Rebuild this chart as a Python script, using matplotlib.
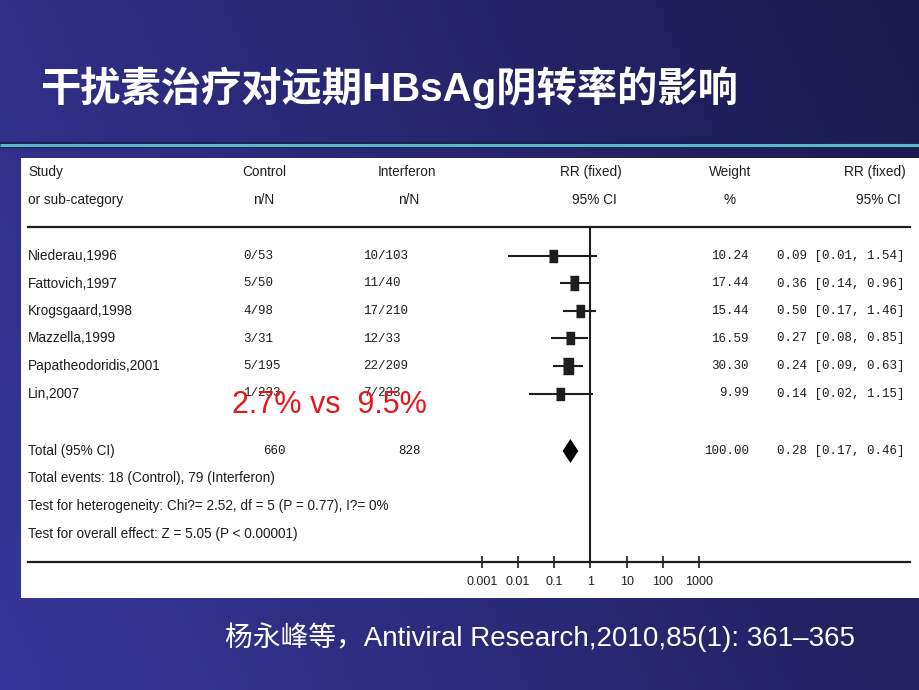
import numpy as np
import matplotlib
matplotlib.use("Agg")
import matplotlib.pyplot as plt
from matplotlib.patches import Rectangle

# study data
studies = ['Niederau,1996', 'Fattovich,1997', 'Krogsgaard,1998', 'Mazzella,1999',
           'Papatheodoridis,2001', 'Lin,2007']
ctrl_n = [0, 5, 4, 3, 5, 1]
ctrl_N = [53, 50, 98, 31, 195, 233]
ifn_n = [10, 11, 17, 12, 22, 7]
ifn_N = [103, 40, 210, 33, 209, 233]
weight = [10.24, 17.44, 15.44, 16.59, 30.30, 9.99]
rr = [0.09, 0.36, 0.50, 0.27, 0.24, 0.14]
ci_lo = [0.0053, 0.14, 0.17, 0.08, 0.09, 0.02]
ci_hi = [1.54, 0.96, 1.46, 0.85, 0.63, 1.15]
total_rr, total_lo, total_hi = 0.28, 0.17, 0.46
tick_vals = [0.001, 0.01, 0.1, 1, 10, 100, 1000]
tick_labels = ['0.001', '0.01', '0.1', '1', '10', '100', '1000']

title = '干扰素治疗对远期HBsAg阴转率的影响'
citation = '杨永峰等，Antiviral Research,2010,85(1): 361–365'
note = '2.7% vs  9.5%'
footer = ['Total events: 18 (Control), 79 (Interferon)',
          'Test for heterogeneity: Chi?= 2.52, df = 5 (P = 0.77), I?= 0%',
          'Test for overall effect: Z = 5.05 (P < 0.00001)']

W, H = 920, 690
sans = ['Liberation Sans', 'DejaVu Sans']
mono = ['Liberation Mono', 'DejaVu Sans Mono']
cjk = ['Liberation Sans', 'Noto Sans CJK SC']
ink = '#1e1e1e'

fig = plt.figure(figsize=(W / 100, H / 100), dpi=100)

# background slide (pixel coordinates)
ax = fig.add_axes([0, 0, 1, 1])
ax.set_xlim(0, W)
ax.set_ylim(H, 0)
ax.axis('off')
xx, yy = np.meshgrid(np.linspace(0, 1, 200), np.linspace(0, 1, 150))
t = 0.75 * xx + 0.25 * (1 - yy)
c0 = np.array([56, 54, 152]) / 255
c1 = np.array([26, 26, 78]) / 255
grad = c0[None, None, :] * (1 - t[..., None]) + c1[None, None, :] * t[..., None]
ax.imshow(grad, extent=(0, W, H, 0), aspect='auto', zorder=0)

ax.text(40, 88, title, color='white', fontsize=29, fontweight='bold',
        family=cjk, ha='left', va='center')
ax.plot([0, W], [145, 145], color='#1a1f55', lw=4.5, solid_capstyle='butt')
ax.plot([0, W], [145, 145], color='#5cb8c8', lw=2.2, solid_capstyle='butt')

ax.add_patch(Rectangle((21, 158), W - 21, 440, facecolor='white', edgecolor='none', zorder=1))

ax.text(225, 637, citation, color='white', fontsize=20, family=cjk,
        ha='left', va='center')

# header
hdr = dict(fontsize=9.8, family=sans, color=ink, va='center', zorder=3)
ax.text(28, 172, 'Study', ha='left', **hdr)
ax.text(28, 200, 'or sub-category', ha='left', **hdr)
ax.text(264, 172, 'Control', ha='center', **hdr)
ax.text(264, 200, 'n/N', ha='center', **hdr)
ax.text(407, 172, 'Interferon', ha='center', **hdr)
ax.text(409, 200, 'n/N', ha='center', **hdr)
ax.text(591, 172, 'RR (fixed)', ha='center', **hdr)
ax.text(594, 200, '95% CI', ha='center', **hdr)
ax.text(730, 172, 'Weight', ha='center', **hdr)
ax.text(730, 200, '%', ha='center', **hdr)
ax.text(875, 172, 'RR (fixed)', ha='center', **hdr)
ax.text(878, 200, '95% CI', ha='center', **hdr)

ax.plot([28, 910], [227, 227], color=ink, lw=1.6, zorder=3)
ax.plot([28, 910], [562, 562], color=ink, lw=1.6, zorder=3)

# rows
row_y = 256 + 27.5 * np.arange(len(studies))
total_y = 451
val = dict(fontsize=9, family=mono, color=ink, va='center', zorder=3)
for i, name in enumerate(studies):
    y = row_y[i]
    ax.text(28, y, name, ha='left', **hdr)
    ax.text(243, y, f'{ctrl_n[i]}/{ctrl_N[i]}', ha='left', **val)
    ax.text(363, y, f'{ifn_n[i]}/{ifn_N[i]}', ha='left', **val)
    ax.text(749, y, f'{weight[i]:.2f}', ha='right', **val)
    ax.text(905, y, f'{rr[i]:.2f} [{ci_lo[i]:.2f}, {ci_hi[i]:.2f}]', ha='right', **val)

ax.text(28, total_y, 'Total (95% CI)', ha='left', **hdr)
ax.text(263, total_y, f'{sum(ctrl_N)}', ha='left', **val)
ax.text(398, total_y, f'{sum(ifn_N)}', ha='left', **val)
ax.text(749, total_y, f'{sum(weight):.2f}', ha='right', **val)
ax.text(905, total_y, f'{total_rr:.2f} [{total_lo:.2f}, {total_hi:.2f}]', ha='right', **val)
for k, line in enumerate(footer):
    ax.text(28, 478 + 28 * k, line, ha='left', **hdr)

ax.text(232, 405, note, color='#e8151b', fontsize=22, family=['Liberation Sans'],
        ha='left', va='center', zorder=5)

# forest plot on a log axis, 0.001 at x=482 and 1000 at x=699
x0, x1, ytop, ybot = 481.7, 699.3, 227, 562
fa = fig.add_axes([x0 / W, (H - ybot) / H, (x1 - x0) / W, (ybot - ytop) / H])
fa.set_xscale('log')
fa.set_xlim(1e-3, 1e3)
fa.set_ylim(ybot, ytop)
fa.patch.set_alpha(0)
for s in fa.spines.values():
    s.set_visible(False)
fa.set_yticks([])
fa.set_xticks(tick_vals)
fa.set_xticklabels(tick_labels, family=sans, fontsize=9, color=ink)
fa.minorticks_off()
fa.tick_params(axis='x', direction='inout', length=8, width=1.2, color=ink, pad=6)

fa.axvline(1, color=ink, lw=1.5)
fa.hlines(row_y, ci_lo, ci_hi, color=ink, lw=1.5)
box = [(-0.6, -1), (0.6, -1), (0.6, 1), (-0.6, 1)]
for i in range(len(studies)):
    fa.plot(rr[i], row_y[i], marker=box, ms=7.5 + 0.11 * weight[i],
            color=ink, linestyle='none')
fa.fill([total_lo, total_rr, total_hi, total_rr],
        [total_y, total_y - 12, total_y, total_y + 12], color='black', lw=0)

fig.savefig('out.png', dpi=100)
